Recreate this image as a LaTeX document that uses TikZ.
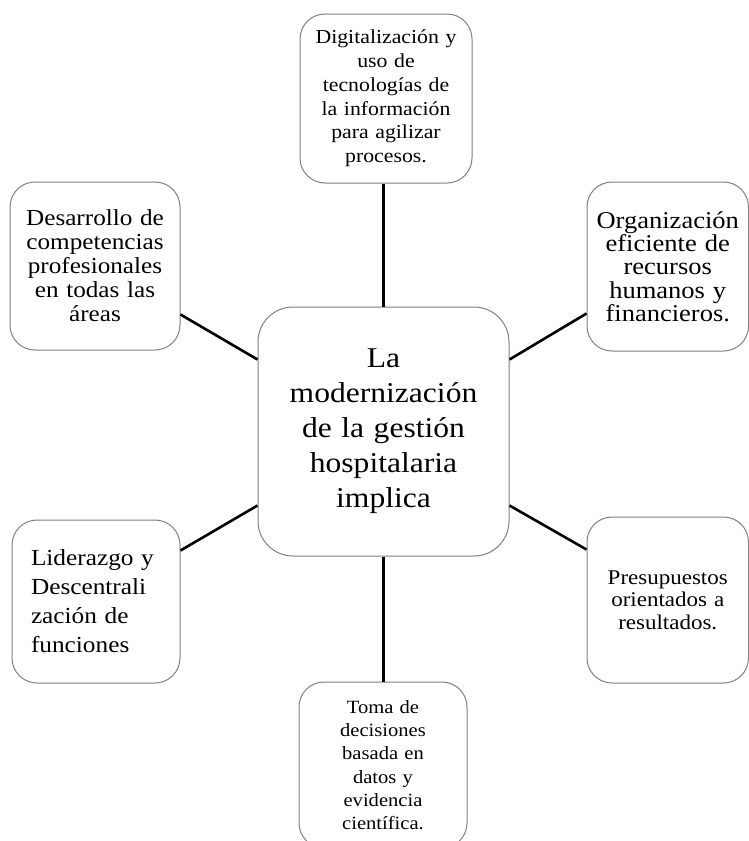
\documentclass[tikz,border=0pt]{standalone}
\usepackage{fontspec}
\setmainfont[FakeStretch=1.1]{Liberation Serif}
\usetikzlibrary{calc}
\definecolor{boxgray}{RGB}{128,128,128}
\newcommand\myfs[2]{\fontsize{#1}{#2}\selectfont}
\begin{document}
\begin{tikzpicture}[x=1pt,y=-1pt,
  box/.style={draw=boxgray, line width=1pt, rounded corners=25pt, inner sep=0pt, align=center},
  conn/.style={line width=2.6pt, black}]
\useasboundingbox (0,0) rectangle (749,841);
\begin{scope}
\clip (0,0) rectangle (749,841);
\node[box, minimum width=172pt, minimum height=169pt, text width=168pt, font=\myfs{19.8}{23.8}] (top) at (386,98.5)
  {Digitalización y\\uso de\\tecnologías de\\la información\\para agilizar\\procesos.};
\node[box, minimum width=170pt, minimum height=168pt, text width=166pt, font=\myfs{22.9}{24}] (lt) at (95,266)
  {Desarrollo de\\competencias\\profesionales\\en todas las\\áreas};
\node[box, minimum width=161.5pt, minimum height=169pt, text width=157pt, font=\myfs{24.1}{23.3}] (rt) at (667.75,266.5)
  {Organización\\eficiente de\\recursos\\humanos y\\financieros.};
\node[box, rounded corners=35pt, minimum width=251pt, minimum height=249pt, text width=247pt, font=\myfs{28.7}{35}] (c) at (383.5,431.5)
  {La\\modernización\\de la gestión\\hospitalaria\\implica};
\node[box, align=left, minimum width=168pt, minimum height=163pt, text width=130pt, font=\myfs{23}{29}] (lb) at (96,601.5)
  {Liderazgo y\\Descentrali\\zación de\\funciones};
\node[box, minimum width=161.5pt, minimum height=166pt, text width=157pt, font=\myfs{20.9}{22.5}] (rb) at (667.75,600)
  {Presupuestos\\orientados a\\resultados.};
\node[box, minimum width=168pt, minimum height=166pt, text width=164pt, font=\myfs{18.7}{23.3}] (bt) at (383,765)
  {Toma de\\decisiones\\basada en\\datos y\\evidencia\\científica.};
\end{scope}
\draw[conn] (c.north) -- (c.north |- top.south);
\draw[conn] ($(lt.north east)+(0,133)$) -- ($(c.north west)+(0,53)$);
\draw[conn] ($(rt.north west)+(0,132)$) -- ($(c.north east)+(0,53)$);
\draw[conn] ($(lb.north east)+(0,31)$) -- ($(c.south west)+(0,-51)$);
\draw[conn] ($(rb.north west)+(0,33)$) -- ($(c.south east)+(0,-51)$);
\draw[conn] (c.south) -- (c.south |- bt.north);
\end{tikzpicture}
\end{document}
